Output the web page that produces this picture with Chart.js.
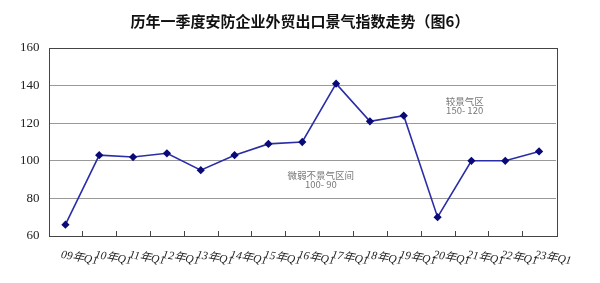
<!DOCTYPE html>
<html>
<head>
<meta charset="utf-8">
<script src="https://cdn.jsdelivr.net/npm/chart.js@4"></script>
<style>
  html, body { margin: 0; padding: 0; background: #fff; }
  #wrap { width: 600px; height: 283px; position: relative; }
</style>
</head>
<body>
<div id="wrap"><canvas id="c"></canvas></div>
<script>
const categories = ['09年Q1', '10年Q1', '11年Q1', '12年Q1', '13年Q1', '14年Q1', '15年Q1', '16年Q1',
  '17年Q1', '18年Q1', '19年Q1', '20年Q1', '21年Q1', '22年Q1', '23年Q1'];
const indexValues = [66, 103, 102, 104, 95, 103, 109, 110, 141, 121, 124, 70, 100, 100, 105];
const yTicks = [60, 80, 100, 120, 140, 160];

const chartTitle = '历年一季度安防企业外贸出口景气指数走势（图6）';
const notes = [
  { lines: ['较景气区', '150- 120'], x: 11.8, y: 131.5 },
  { lines: ['微弱不景气区间', '100- 90'], x: 7.55, y: 92 }
];

const decor = {
  id: 'decor',
  afterDraw(chart) {
    const ctx = chart.ctx;
    const a = chart.chartArea;
    const xs = chart.scales.x;
    const ys = chart.scales.y;
    ctx.save();
    // frame
    ctx.strokeStyle = '#444';
    ctx.lineWidth = 1;
    ctx.strokeRect(Math.round(a.left) + 0.5, Math.round(a.top) + 0.5,
      Math.round(a.right - a.left), Math.round(a.bottom - a.top));
    // inward tick marks at category boundaries
    const half = (xs.getPixelForValue(1) - xs.getPixelForValue(0)) / 2;
    ctx.beginPath();
    for (let i = 0; i < categories.length - 1; i++) {
      const px = Math.round(xs.getPixelForValue(i) + half) + 0.5;
      ctx.moveTo(px, a.bottom);
      ctx.lineTo(px, a.bottom - 5);
    }
    ctx.stroke();
    // slanted category labels
    ctx.fillStyle = '#222';
    ctx.font = 'italic 11.5px "Liberation Serif", "Noto Sans CJK SC", serif';
    ctx.textAlign = 'center';
    ctx.textBaseline = 'middle';
    categories.forEach((c, i) => {
      const px = xs.getPixelForValue(i) + half - 3;
      ctx.save();
      ctx.translate(px, a.bottom + 22);
      ctx.rotate(10 * Math.PI / 180);
      ctx.fillText(c, 0, 0);
      ctx.restore();
    });
    // zone notes
    ctx.fillStyle = '#777';
    ctx.font = '9.5px "Noto Sans CJK SC", sans-serif';
    notes.forEach(n => {
      const px = xs.getPixelForValue(n.x);
      const py = ys.getPixelForValue(n.y);
      n.lines.forEach((t, k) => ctx.fillText(t, px, py + k * 9));
    });
    // title
    ctx.fillStyle = '#111';
    ctx.font = 'bold 15px "Noto Sans CJK SC", sans-serif';
    ctx.fillText(chartTitle, 300, 21);
    ctx.restore();
  }
};

new Chart(document.getElementById('c'), {
  type: 'line',
  data: {
    labels: categories,
    datasets: [{
      data: indexValues,
      borderColor: '#2a2ea6',
      borderWidth: 1.6,
      pointStyle: 'rectRot',
      pointRadius: 3,
      pointBackgroundColor: '#0a0a78',
      pointBorderColor: '#0a0a78',
      tension: 0
    }]
  },
  options: {
    responsive: true,
    maintainAspectRatio: false,
    animation: false,
    layout: { padding: { left: 11, top: 48, right: 44, bottom: 47 } },
    plugins: {
      legend: { display: false },
      tooltip: { enabled: false }
    },
    scales: {
      x: {
        offset: true,
        grid: { display: false, drawTicks: false },
        border: { display: false },
        ticks: { display: false }
      },
      y: {
        min: 60,
        max: 160,
        afterBuildTicks: s => { s.ticks = yTicks.map(v => ({ value: v })); },
        grid: { color: '#999', drawTicks: false },
        border: { display: false },
        ticks: {
          padding: 9,
          color: '#222',
          font: { family: '"Liberation Serif", serif', size: 13 }
        }
      }
    }
  },
  plugins: [decor]
});
</script>
</body>
</html>
